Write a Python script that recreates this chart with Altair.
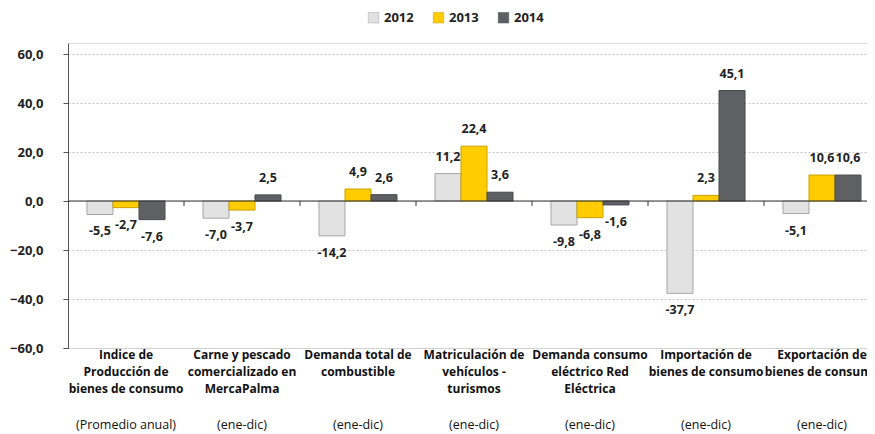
import altair as alt
import pandas as pd

categories = [
    "Indice de\nProducción de\nbienes de consumo",
    "Carne y pescado\ncomercializado en\nMercaPalma",
    "Demanda total de\ncombustible",
    "Matriculación de\nvehículos -\nturismos",
    "Demanda consumo\neléctrico Red\nEléctrica",
    "Importación de\nbienes de consumo",
    "Exportación de\nbienes de consumo",
]
periods = ["(Promedio anual)", "(ene-dic)", "(ene-dic)", "(ene-dic)",
           "(ene-dic)", "(ene-dic)", "(ene-dic)"]
years = ["2012", "2013", "2014"]
v2012 = [-5.5, -7.0, -14.2, 11.2, -9.8, -37.7, -5.1]
v2013 = [-2.7, -3.7, 4.9, 22.4, -6.8, 2.3, 10.6]
v2014 = [-7.6, 2.5, 2.6, 3.6, -1.6, 45.1, 10.6]
y_ticks = [-60, -40, -20, 0, 20, 40, 60]

fills = ["#e2e2e2", "#ffcc00", "#5f6064"]
strokes = ["#a6a6a6", "#c9a200", "#4a4a4e"]

rows = []
for yr, vals in zip(years, [v2012, v2013, v2014]):
    for c, v in zip(categories, vals):
        rows.append({"category": c, "year": yr, "value": v,
                     "label": f"{v:.1f}".replace(".", ",")})
df = pd.DataFrame(rows)
cat_df = pd.DataFrame({"category": categories, "period": periods})
tick_df = pd.DataFrame({"category": categories[1:], "zero": 0, "low": -2})
zero_df = pd.DataFrame({"zero": [0]})

FONT = "Open Sans"

x_scale = alt.Scale(domain=categories, paddingInner=0, paddingOuter=0, range=[0, 812])
x_enc = alt.X("category:N", scale=x_scale, axis=None)
xo_enc = alt.XOffset("year:N", scale=alt.Scale(domain=years, paddingInner=0, paddingOuter=0.73))
y_scale = alt.Scale(domain=[-60, 64.5], nice=False, zero=False)
y_enc = alt.Y("value:Q", title=None, scale=y_scale,
              axis=alt.Axis(values=y_ticks,
                            labelExpr="replace(format(datum.value, '.1f'), '.', ',')",
                            grid=True, gridColor="#c4c4c4", gridDash=[2, 2],
                            domainColor="#555555", tickColor="#555555", tickSize=5,
                            labelPadding=20, labelFontSize=13, labelFontWeight="bold",
                            labelColor="#222222", labelFont=FONT))

bars = alt.Chart(df).mark_bar(strokeWidth=1).encode(
    x=x_enc, xOffset=xo_enc, y=y_enc,
    color=alt.Color("year:N", scale=alt.Scale(domain=years, range=fills),
                    legend=alt.Legend(title=None, orient="none", legendX=299, legendY=-32,
                                      direction="horizontal", symbolType="square",
                                      symbolSize=110, labelFontSize=13,
                                      labelFontWeight="bold", labelColor="#222222",
                                      labelFont=FONT, columnPadding=18, labelOffset=4,
                                      symbolStrokeColor="#999999", symbolStrokeWidth=0.5)),
    stroke=alt.Stroke("year:N", scale=alt.Scale(domain=years, range=strokes), legend=None),
)

pos_text = alt.Chart(df).transform_filter("datum.value >= 0").mark_text(
    dy=-17, baseline="middle", fontSize=12.5, fontWeight="bold", color="#222222", font=FONT
).encode(x=x_enc, xOffset=xo_enc, y=alt.Y("value:Q"), text="label:N")

neg_text = alt.Chart(df).transform_filter("datum.value < 0").mark_text(
    dy=17, baseline="middle", fontSize=12.5, fontWeight="bold", color="#222222", font=FONT
).encode(x=x_enc, xOffset=xo_enc, y=alt.Y("value:Q"), text="label:N")

zero_rule = alt.Chart(zero_df).mark_rule(color="#333333", strokeWidth=1).encode(
    y=alt.Y("zero:Q")
)

bound_ticks = alt.Chart(tick_df).mark_rule(color="#333333").encode(
    x=alt.X("category:N", scale=x_scale, axis=None, bandPosition=0),
    y=alt.Y("zero:Q"), y2=alt.Y2("low")
)

cat_text = alt.Chart(cat_df).mark_text(
    lineBreak="\n", baseline="top", fontSize=12, fontWeight="bold",
    lineHeight=17, color="#111111", font=FONT
).encode(x=x_enc, y=alt.value(307), text="category:N")

per_text = alt.Chart(cat_df).mark_text(
    baseline="middle", fontSize=12.5, color="#111111", font=FONT
).encode(x=x_enc, y=alt.value(382), text="period:N")

chart = alt.layer(bars, zero_rule, bound_ticks, pos_text, neg_text, cat_text, per_text).properties(
    width=799, height=305,
    autosize=alt.AutoSizeParams(type="none"),
    padding={"left": 60, "top": 35, "right": 0, "bottom": 86},
).configure_view(stroke=None).configure(font=FONT)

chart.save("out.html", embed_options={"renderer": "svg", "actions": False})
